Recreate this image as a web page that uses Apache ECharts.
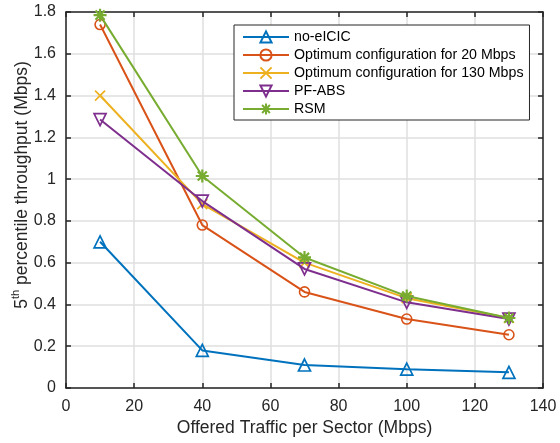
<!DOCTYPE html>
<html>
<head>
<meta charset="utf-8">
<script src="https://cdn.jsdelivr.net/npm/echarts@6/dist/echarts.min.js"></script>
<style>
html,body{margin:0;padding:0;background:#fff;}
#chart{width:560px;height:443px;}
</style>
</head>
<body>
<div id="chart"></div>
<script>
var traffic = [10, 40, 70, 100, 130];
var seriesNames = ['no-eICIC', 'Optimum configuration for 20 Mbps', 'Optimum configuration for 130 Mbps', 'PF-ABS', 'RSM'];
var noEICIC = [0.70, 0.18, 0.11, 0.09, 0.075];
var opt20 = [1.74, 0.78, 0.46, 0.33, 0.255];
var opt130 = [1.40, 0.88, 0.60, 0.43, 0.335];
var pfABS = [1.285, 0.895, 0.57, 0.41, 0.33];
var rsm = [1.785, 1.015, 0.625, 0.44, 0.335];
var xTitle = 'Offered Traffic per Sector (Mbps)';
var yTitleMain = ' percentile throughput (Mbps)';

var colors = ['#0072BD', '#D95319', '#EDB120', '#7E2F8E', '#77AC30'];
var symbols = [
  'triangle',
  'circle',
  'path://M0 0 L10 10 M10 0 L0 10',
  'triangle',
  'path://M5 0 L5 10 M0 5 L10 5 M1.5 1.5 L8.5 8.5 M8.5 1.5 L1.5 8.5'
];
var symbolSizes = [12, 10, 10, 12, 13];
var borderWidths = [1.7, 1.6, 1.7, 1.7, 2.2];
var rotations = [0, 0, 0, 180, 0];
var allData = [noEICIC, opt20, opt130, pfABS, rsm];

function pairs(arr) {
  return traffic.map(function (x, i) { return [x, arr[i]]; });
}

var axisColor = '#262626';
var fontFam = '"Liberation Sans", Arial, Helvetica, sans-serif';

var series = allData.map(function (d, i) {
  return {
    name: seriesNames[i],
    type: 'line',
    data: pairs(d),
    symbol: symbols[i],
    symbolSize: symbolSizes[i],
    symbolRotate: rotations[i],
    showAllSymbol: true,
    lineStyle: { color: colors[i], width: 2 },
    itemStyle: { color: 'rgba(255,255,255,0)', borderColor: colors[i], borderWidth: borderWidths[i] },
    emphasis: { disabled: true },
    animation: false,
    z: 2 + i
  };
});

var chart = echarts.init(document.getElementById('chart'), null, { renderer: 'canvas' });
chart.setOption({
  backgroundColor: '#ffffff',
  animation: false,
  textStyle: { fontFamily: fontFam },
  grid: { left: 66, right: 17, top: 12, bottom: 55, containLabel: false, outerBoundsMode: 'none' },
  legend: {
    orient: 'vertical',
    left: 234,
    top: 25,
    padding: [5, 6, 4, 8],
    itemWidth: 46,
    itemHeight: 14,
    itemGap: 4,
    backgroundColor: '#ffffff',
    borderColor: axisColor,
    borderWidth: 1,
    textStyle: { fontSize: 14.2, color: '#000000', fontFamily: fontFam },
    data: seriesNames
  },
  xAxis: [{
    type: 'value',
    min: 0, max: 140, interval: 20,
    name: xTitle,
    nameLocation: 'middle',
    nameGap: 31,
    nameMoveOverlap: false,
    nameTextStyle: { fontSize: 17.5, color: axisColor, fontFamily: fontFam },
    axisLine: { show: true, onZero: false, lineStyle: { color: axisColor, width: 1.5 } },
    axisTick: { show: true, inside: true, length: 5, lineStyle: { color: axisColor, width: 1.5 } },
    axisLabel: { fontSize: 16, color: axisColor, margin: 11, fontFamily: fontFam },
    splitLine: { show: true, lineStyle: { color: '#dfdfdf', width: 1.5 } }
  }, {
    type: 'value', position: 'top',
    min: 0, max: 140, interval: 20,
    axisLine: { show: true, onZero: false, lineStyle: { color: axisColor, width: 1.5 } },
    axisTick: { show: true, inside: true, length: 5, lineStyle: { color: axisColor, width: 1.5 } },
    axisLabel: { show: false },
    splitLine: { show: false }
  }],
  yAxis: [{
    type: 'value',
    min: 0, max: 1.8, interval: 0.2,
    name: '{n|5}{s|th}{n|' + yTitleMain + '}',
    nameLocation: 'middle',
    nameGap: 32,
    nameRotate: 90,
    nameMoveOverlap: false,
    nameTextStyle: {
      color: axisColor,
      padding: [0, 0, 0, 30],
      rich: {
        n: { fontSize: 17.5, lineHeight: 24, color: axisColor, fontFamily: fontFam },
        s: { fontSize: 11, lineHeight: 13, verticalAlign: 'top', color: axisColor, fontFamily: fontFam }
      }
    },
    axisLine: { show: true, onZero: false, lineStyle: { color: axisColor, width: 1.5 } },
    axisTick: { show: true, inside: true, length: 5, lineStyle: { color: axisColor, width: 1.5 } },
    axisLabel: { fontSize: 16, color: axisColor, margin: 10, fontFamily: fontFam },
    splitLine: { show: true, lineStyle: { color: '#dfdfdf', width: 1.5 } }
  }, {
    type: 'value', position: 'right',
    min: 0, max: 1.8, interval: 0.2,
    axisLine: { show: true, onZero: false, lineStyle: { color: axisColor, width: 1.5 } },
    axisTick: { show: true, inside: true, length: 5, lineStyle: { color: axisColor, width: 1.5 } },
    axisLabel: { show: false },
    splitLine: { show: false }
  }],
  series: series
});
</script>
</body>
</html>
